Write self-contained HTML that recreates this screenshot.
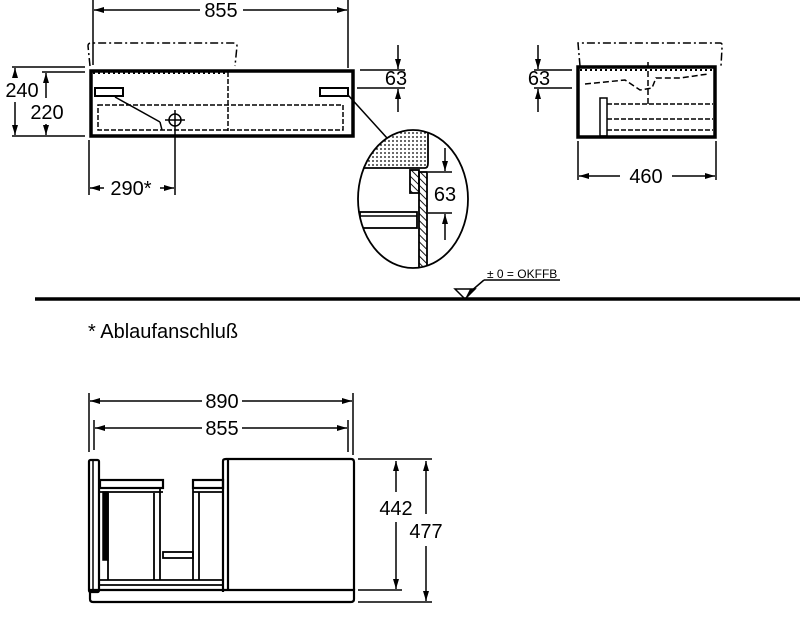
<!DOCTYPE html>
<html><head><meta charset="utf-8"><style>
html,body{margin:0;padding:0;background:#fff;}
svg{display:block;}
text{font-family:"Liberation Sans",sans-serif;fill:#000;}
</style></head><body>
<svg width="800" height="624" viewBox="0 0 800 624" xmlns="http://www.w3.org/2000/svg">
<defs>
<marker id="a" viewBox="0 0 10 6" refX="10" refY="3" markerWidth="11" markerHeight="6" orient="auto-start-reverse" markerUnits="userSpaceOnUse"><path d="M0,0 L10,3 L0,6 z" fill="#000"/></marker>
<pattern id="dots" width="4" height="4" patternUnits="userSpaceOnUse"><circle cx="1" cy="1" r="0.9" fill="#000"/></pattern>
<pattern id="hatch" width="5" height="5" patternUnits="userSpaceOnUse" patternTransform="rotate(-45)"><line x1="0" y1="0" x2="0" y2="5" stroke="#000" stroke-width="1.8"/></pattern>
<clipPath id="ec"><ellipse cx="413" cy="199" rx="55" ry="69"/></clipPath>
</defs>
<g stroke="#000" fill="none" stroke-width="1.5">
<!-- top front view -->
<line x1="93" y1="0" x2="93" y2="65"/><line x1="348" y1="0" x2="348" y2="68"/>
<line x1="94" y1="10" x2="200" y2="10" marker-start="url(#a)"/><line x1="243" y1="10" x2="347" y2="10" marker-end="url(#a)"/>
<path d="M90,66 L88,46 Q88,43 91,43 L233,43 Q237,43 237,46 L235,66" stroke-dasharray="8,3,2,3"/>
<rect x="91" y="71" width="262" height="65" stroke-width="3.5"/>
<line x1="93" y1="73" x2="228" y2="73" stroke-dasharray="2,3" stroke-width="2"/>
<line x1="228" y1="72" x2="228" y2="131" stroke-dasharray="5,2"/>
<rect x="98" y="105" width="245" height="25" stroke-dasharray="5,2"/>
<rect x="95" y="88" width="28" height="8" stroke-width="2"/>
<rect x="320" y="88" width="28" height="8" stroke-width="2"/>
<line x1="115" y1="97" x2="160" y2="122"/><line x1="160" y1="122" x2="162" y2="130"/>
<circle cx="175" cy="120" r="6"/><line x1="165" y1="120" x2="185" y2="120"/><line x1="175" y1="110" x2="175" y2="130"/>
<!-- 240/220 -->
<line x1="12" y1="67" x2="85" y2="67"/><line x1="12" y1="136" x2="85" y2="136"/>
<line x1="42" y1="72" x2="85" y2="72"/>
<line x1="15" y1="68" x2="15" y2="78" marker-start="url(#a)"/><line x1="15" y1="102" x2="15" y2="135" marker-end="url(#a)"/>
<line x1="46" y1="73" x2="46" y2="98" marker-start="url(#a)"/><line x1="46" y1="124" x2="46" y2="135" marker-end="url(#a)"/>
<!-- 290 -->
<line x1="89" y1="140" x2="89" y2="195"/><line x1="175" y1="130" x2="175" y2="195"/>
<line x1="90" y1="188" x2="104" y2="188" marker-start="url(#a)"/><line x1="160" y1="188" x2="174" y2="188" marker-end="url(#a)"/>
<!-- 63 left -->
<line x1="360" y1="70" x2="405" y2="70"/><line x1="357" y1="88" x2="405" y2="88"/>
<line x1="398" y1="45" x2="398" y2="69" marker-end="url(#a)"/><line x1="398" y1="112" x2="398" y2="89" marker-end="url(#a)"/>
<line x1="348" y1="95" x2="387" y2="138"/>
<!-- detail ellipse -->
<g clip-path="url(#ec)">
<path d="M355,128 L428,128 L428,165 Q428,168 425,168 L355,168 Z" fill="url(#dots)" stroke="none"/>
<path d="M360,168 L425,168 Q428,168 428,163 L428,128" stroke-width="1.8"/>
<rect x="419" y="172" width="8" height="100" fill="url(#hatch)" stroke-width="1.8"/>
<rect x="410" y="170" width="9" height="23" fill="url(#hatch)" stroke-width="1.8"/>
<rect x="360" y="212" width="57" height="16" stroke-width="1.8"/>
<line x1="360" y1="216" x2="417" y2="216"/>
<line x1="428" y1="172" x2="452" y2="172"/><line x1="428" y1="213" x2="452" y2="213"/>
<line x1="445" y1="148" x2="445" y2="171" marker-end="url(#a)"/><line x1="445" y1="240" x2="445" y2="214" marker-end="url(#a)"/>
</g>
<ellipse cx="413" cy="199" rx="55" ry="69" stroke-width="1.8"/>
<!-- side view -->
<path d="M580,66 L578,43 L720,43 Q723,43 722,48 L721,66" stroke-dasharray="8,3,2,3"/>
<rect x="578" y="67" width="137" height="70" stroke-width="3.5"/>
<line x1="580" y1="70" x2="713" y2="70" stroke-dasharray="2,3" stroke-width="2"/>
<path d="M585,84 L625,80 L640,90 L652,88 L656,78 L680,78 L708,74" stroke-dasharray="6,3"/>
<line x1="648" y1="62" x2="648" y2="104" stroke-dasharray="6,3"/>
<rect x="600" y="98" width="7" height="38"/>
<line x1="607" y1="104" x2="713" y2="104" stroke-dasharray="5,2"/>
<line x1="607" y1="119" x2="713" y2="119" stroke-dasharray="5,2"/>
<line x1="607" y1="130" x2="713" y2="130" stroke-dasharray="5,2"/>
<line x1="578" y1="141" x2="578" y2="180"/><line x1="716" y1="141" x2="716" y2="180"/>
<line x1="579" y1="176" x2="620" y2="176" marker-start="url(#a)"/><line x1="672" y1="176" x2="715" y2="176" marker-end="url(#a)"/>
<line x1="534" y1="70" x2="572" y2="70"/><line x1="534" y1="88" x2="572" y2="88"/>
<line x1="538" y1="45" x2="538" y2="69" marker-end="url(#a)"/><line x1="538" y1="112" x2="538" y2="89" marker-end="url(#a)"/>
<!-- floor -->
<line x1="35" y1="299" x2="800" y2="299" stroke-width="3.5"/>
<line x1="484" y1="280" x2="560" y2="280"/>
<line x1="470" y1="292" x2="484" y2="280"/>
<!-- bottom front -->
<line x1="89" y1="393" x2="89" y2="452"/><line x1="353" y1="393" x2="353" y2="455"/>
<line x1="94" y1="420" x2="94" y2="450"/><line x1="348" y1="420" x2="348" y2="452"/>
<line x1="90" y1="401" x2="202" y2="401" marker-start="url(#a)"/><line x1="242" y1="401" x2="352" y2="401" marker-end="url(#a)"/>
<line x1="95" y1="428" x2="202" y2="428" marker-start="url(#a)"/><line x1="242" y1="428" x2="347" y2="428" marker-end="url(#a)"/>
<rect x="89" y="460" width="10" height="132" rx="1.5" stroke-width="2.2"/>
<line x1="93" y1="461" x2="93" y2="590"/>
<path d="M223,592 L223,461 Q223,459 226,459 L351,459 Q354,459 354,462 L354,590" stroke-width="2.2"/>
<line x1="228" y1="460" x2="228" y2="590" stroke-width="2.2"/>
<path d="M90,590 L354,590 L354,599 Q354,602 351,602 L93,602 Q90,602 90,599 Z" stroke-width="2.2"/>
<line x1="99" y1="585" x2="223" y2="585" stroke-width="1.8"/>
<line x1="99" y1="580" x2="223" y2="580" stroke-width="1.8"/>
<rect x="100" y="480" width="63" height="8" stroke-width="2.2"/>
<line x1="100" y1="492" x2="163" y2="492" stroke-width="1.8"/>
<rect x="103" y="492" width="5" height="68" fill="#000"/>
<line x1="108" y1="493" x2="108" y2="580" stroke-width="1.8"/>
<line x1="154" y1="493" x2="154" y2="580" stroke-width="1.8"/><line x1="160" y1="488" x2="160" y2="580" stroke-width="1.8"/>
<rect x="163" y="552" width="30" height="6" stroke-width="1.8"/>
<rect x="193" y="480" width="30" height="8" stroke-width="2.2"/>
<line x1="193" y1="492" x2="223" y2="492" stroke-width="1.8"/>
<line x1="193" y1="480" x2="193" y2="580" stroke-width="1.8"/><line x1="199" y1="492" x2="199" y2="580" stroke-width="1.8"/>
<!-- 442/477 -->
<line x1="358" y1="459" x2="432" y2="459"/><line x1="358" y1="590" x2="402" y2="590"/><line x1="358" y1="602" x2="432" y2="602"/>
<line x1="396" y1="461" x2="396" y2="492" marker-start="url(#a)"/><line x1="396" y1="522" x2="396" y2="589" marker-end="url(#a)"/>
<line x1="426" y1="461" x2="426" y2="514" marker-start="url(#a)"/><line x1="426" y1="546" x2="426" y2="601" marker-end="url(#a)"/>
</g>
<path d="M455,289 L475,289 L465,299 Z" fill="none" stroke="#000" stroke-width="1.5"/>
<path d="M465,299 L475,289 L470,289 Z" fill="#000"/>
<g font-size="20">
<text x="221" y="17" text-anchor="middle">855</text>
<text x="22" y="97" text-anchor="middle">240</text>
<text x="47" y="119" text-anchor="middle">220</text>
<text x="131" y="195" text-anchor="middle">290*</text>
<text x="396" y="85" text-anchor="middle">63</text>
<text x="445" y="201" text-anchor="middle">63</text>
<text x="539" y="85" text-anchor="middle">63</text>
<text x="646" y="183" text-anchor="middle">460</text>
<text x="88" y="338">* Ablaufanschluß</text>
<text x="222" y="408" text-anchor="middle">890</text>
<text x="222" y="435" text-anchor="middle">855</text>
<text x="396" y="515" text-anchor="middle">442</text>
<text x="426" y="538" text-anchor="middle">477</text>
</g>
<text x="487" y="278" font-size="12">± 0 = OKFFB</text>
</svg>
</body></html>
